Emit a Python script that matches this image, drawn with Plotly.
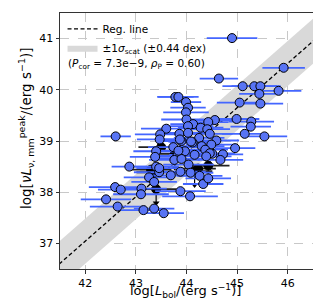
import numpy as np
import plotly.graph_objects as go

# Detections (blue)
lbol = [44.90, 45.92, 44.64, 45.11, 45.34, 45.46, 45.82, 45.44, 45.05, 45.46,
        43.78, 43.84, 43.99, 44.03, 43.99, 44.00, 44.99, 44.56, 44.43, 45.28,
        45.27, 44.13, 44.03, 44.28, 44.41, 42.60, 43.60, 43.48, 43.47, 45.15,
        45.54, 43.86, 44.03, 44.46, 44.25, 44.59, 43.90, 44.12, 43.74, 44.96,
        44.30, 44.49, 43.40, 43.97, 44.37, 43.38, 43.82, 44.16, 44.51, 44.72,
        44.67, 43.76, 43.90, 42.87, 43.40, 44.04, 43.46, 43.69, 43.88, 44.08,
        43.26, 44.26, 44.33, 43.36, 42.59, 42.70, 43.11, 43.10, 43.88, 44.07,
        42.41, 42.64, 43.15, 43.36, 43.55, 43.84, 44.46, 44.39, 43.46, 44.43,
        44.09, 43.87]
lmm = [41.01, 40.43, 40.22, 40.07, 40.07, 40.07, 39.98, 39.92, 39.75, 39.73,
       39.86, 39.86, 39.76, 39.65, 39.56, 39.42, 39.43, 39.41, 39.37, 39.38,
       39.28, 39.33, 39.29, 39.26, 39.23, 39.09, 39.24, 39.13, 39.03, 39.14,
       39.09, 39.14, 39.16, 39.14, 39.06, 39.01, 39.00, 38.97, 38.88, 38.86,
       38.90, 38.93, 38.80, 38.80, 38.83, 38.69, 38.71, 38.73, 38.75, 38.74,
       38.63, 38.63, 38.65, 38.50, 38.50, 38.54, 38.39, 38.33, 38.40, 38.38,
       38.29, 38.32, 38.16, 38.20, 38.10, 38.05, 38.07, 37.96, 38.02, 37.92,
       37.86, 37.72, 37.65, 37.68, 37.59, 38.81, 38.76, 38.70, 38.47, 38.27,
       38.99, 39.03]
lbol_err = [0.50, 0.42, 0.38, 0.40, 0.45, 0.40, 0.45, 0.40, 0.45, 0.45,
            0.36, 0.40, 0.30, 0.35, 0.45, 0.50, 0.45, 0.45, 0.40, 0.45,
            0.40, 0.45, 0.50, 0.45, 0.45, 0.30, 0.50, 0.50, 0.45, 0.45,
            0.45, 0.40, 0.50, 0.45, 0.50, 0.45, 0.50, 0.45, 0.50, 0.40,
            0.45, 0.50, 0.45, 0.50, 0.45, 0.50, 0.45, 0.50, 0.45, 0.40,
            0.45, 0.50, 0.45, 0.35, 0.45, 0.50, 0.50, 0.45, 0.50, 0.45,
            0.50, 0.45, 0.40, 0.45, 0.52, 0.45, 0.50, 0.55, 0.50, 0.55,
            0.50, 0.55, 0.45, 0.40, 0.40, 0.45, 0.45, 0.50, 0.45, 0.45,
            0.45, 0.45]

# Black points (some upper limits)
lbol_k = [43.50, 43.77, 43.30, 43.36, 44.16, 44.23, 44.43, 43.40]
lmm_k = [38.88, 38.75, 38.44, 38.39, 38.41, 38.46, 38.52, 38.06]
lbol_k_err = [0.45, 0.40, 0.40, 0.35, 0.35, 0.35, 0.42, 0.40]
upper_limit = [False, True, False, False, True, False, True, True]
arrow_len = 0.27

# Regression
reg_x0 = 41.5
reg_y0 = 36.61
reg_slope = 0.868
scatter_dex = 0.44

xr = [41.5, 46.5]
yr = [36.5, 41.5]

fig = go.Figure()

xx = np.array([41.0, 47.0])
yy = reg_y0 + reg_slope * (xx - reg_x0)
fig.add_trace(go.Scatter(
    x=list(xx) + list(xx[::-1]),
    y=list(yy + scatter_dex) + list((yy - scatter_dex)[::-1]),
    fill="toself", fillcolor="#d9d9d9", line=dict(width=0),
    mode="lines", name="±1<i>σ</i><sub>scat</sub> (±0.44 dex)",
    legendrank=2, hoverinfo="skip"))
fig.add_trace(go.Scatter(
    x=xx, y=yy, mode="lines", line=dict(color="black", width=1.3, dash="4px,2.5px"),
    name="Reg. line", legendrank=1))

# black points with arrows
ax_, ay_, tx, ty = [], [], [], []
for x, y, u in zip(lbol_k, lmm_k, upper_limit):
    if u:
        ax_ += [x, x, None]
        ay_ += [y, y - arrow_len, None]
        tx.append(x)
        ty.append(y - arrow_len)
fig.add_trace(go.Scatter(x=ax_, y=ay_, mode="lines",
                         line=dict(color="black", width=1.2), showlegend=False))
fig.add_trace(go.Scatter(x=tx, y=ty, mode="markers",
                         marker=dict(symbol="triangle-down", size=6, color="black"),
                         showlegend=False))
fig.add_trace(go.Scatter(
    x=lbol_k, y=lmm_k, mode="markers",
    error_x=dict(type="data", array=lbol_k_err, color="#222222", thickness=1.8, width=0),
    marker=dict(size=9, color="black", line=dict(color="black", width=1)),
    showlegend=False))

fig.add_trace(go.Scatter(
    x=lbol, y=lmm, mode="markers",
    error_x=dict(type="data", array=lbol_err, color="#4466ff", thickness=1.8, width=0),
    marker=dict(size=9, color="#5874f4", line=dict(color="black", width=1)),
    showlegend=False))

fig.add_annotation(
    xref="paper", yref="paper", x=0.025, y=0.80, xanchor="left", yanchor="middle",
    text="(<i>P</i><sub>cor</sub> = 7.3e−9, <i>ρ</i><sub>P</sub> = 0.60)",
    showarrow=False, font=dict(size=10.5, color="black"))

# axis titles
fig.add_annotation(
    xref="paper", yref="paper", x=0.496, y=0, yshift=-22, xanchor="center", yanchor="middle",
    text="log[<i>L</i><sub>bol</sub>/(erg s<sup>−1</sup>)]",
    showarrow=False, font=dict(size=13, color="black"))
fig.add_annotation(
    xref="paper", yref="paper", x=0, xshift=-34, y=0.547, xanchor="center", yanchor="middle",
    textangle=-90,
    text="log[<i>νL</i><sub>ν, mm</sub><sup>peak</sup>/(erg s<sup>−1</sup>)]",
    showarrow=False, font=dict(size=13.5, color="black"))

axis_common = dict(
    showline=True, linecolor="#333", linewidth=1, mirror=True,
    ticks="outside", ticklen=3.5, tickcolor="#333",
    showgrid=True, gridcolor="#c8c8c8", griddash="dash", gridwidth=0.8,
    zeroline=False, tickfont=dict(size=11, color="black"),
)
fig.update_xaxes(range=xr, dtick=1, tick0=42, **axis_common)
fig.update_yaxes(range=yr, dtick=1, tick0=37, **axis_common)

fig.update_layout(
    width=321, height=303,
    margin=dict(l=52, r=16, t=5, b=42),
    plot_bgcolor="white", paper_bgcolor="white",
    font=dict(family="DejaVu Sans", color="black"),
    legend=dict(x=0.01, y=0.995, xanchor="left", yanchor="top",
                bgcolor="rgba(0,0,0,0)", font=dict(size=10.5),
                itemwidth=30, tracegroupgap=0),
)

fig.write_html("out.html")
